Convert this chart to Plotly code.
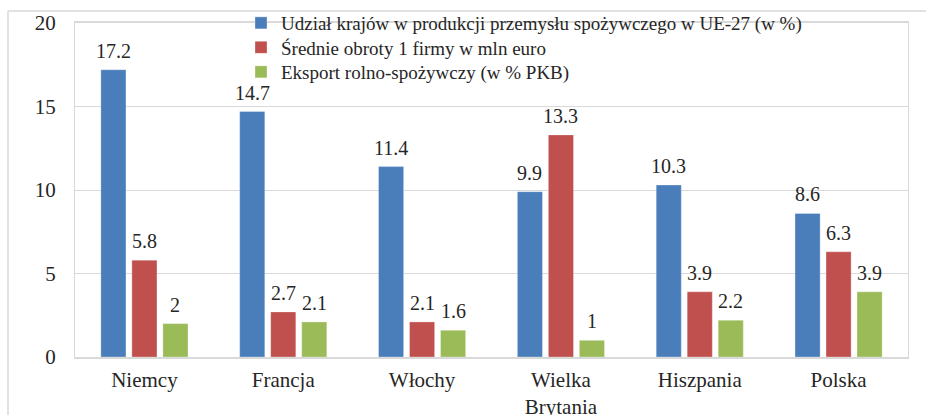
import plotly.graph_objects as go

categories = ["Niemcy", "Francja", "Włochy", "Wielka<br>Brytania", "Hiszpania", "Polska"]
udzial = [17.2, 14.7, 11.4, 9.9, 10.3, 8.6]
obroty = [5.8, 2.7, 2.1, 13.3, 3.9, 6.3]
eksport = [2, 2.1, 1.6, 1, 2.2, 3.9]
names = ["Udział krajów w produkcji przemysłu spożywczego w UE-27 (w %)",
         "Średnie obroty 1 firmy w mln euro",
         "Eksport rolno-spożywczy (w % PKB)"]
colors = ["#4A7EBB", "#C0504D", "#9BBB59"]
y_ticks = [0, 5, 10, 15, 20]

FONT = "Liberation Serif, Times New Roman, serif"
TXT = "#262626"

W, H = 926, 415
L, R, T, B = 75, 18, 23, 58
pw, ph = W - L - R, H - T - B

def px_x(p):
    return (p - L) / pw

def px_y(p):
    return (H - B - p) / ph

fig = go.Figure()
legend_ids = ["legend", "legend2", "legend3"]
shifts = [-31, 0, 31]
for name, vals, c, lg, sh in zip(names, [udzial, obroty, eksport], colors, legend_ids, shifts):
    fig.add_trace(go.Bar(
        x=categories, y=vals, name=name, legend=lg,
        marker=dict(color=c, line=dict(color="rgba(255,255,255,0.6)", width=0.5)),
        hoverinfo="skip",
    ))
    for cat, v in zip(categories, vals):
        fig.add_annotation(x=cat, y=v, text=f"{v:g}", showarrow=False,
                           xshift=sh, yshift=6, yanchor="bottom", xanchor="center",
                           font=dict(family=FONT, size=20, color=TXT))

leg_common = dict(xanchor="left", yanchor="middle", bgcolor="rgba(255,255,255,0)",
                  font=dict(family=FONT, size=19, color=TXT), itemwidth=30)
fig.update_layout(
    width=W, height=H,
    margin=dict(l=L, r=R, t=T, b=B, autoexpand=False),
    paper_bgcolor="white", plot_bgcolor="white",
    barmode="group", bargap=0.33, bargroupgap=0.19,
    font=dict(family=FONT, size=20, color=TXT),
    showlegend=True,
    legend=dict(x=px_x(241), y=px_y(23), **leg_common),
    legend2=dict(x=px_x(241), y=px_y(47.5), **leg_common),
    legend3=dict(x=px_x(241), y=px_y(72), **leg_common),
    xaxis=dict(showgrid=False, showline=True, linecolor="#D9D9D9", linewidth=1.5,
               mirror=True, ticks="", automargin=False, ticklabelstandoff=3,
               tickfont=dict(family=FONT, size=21, color=TXT)),
    yaxis=dict(range=[0, 20], tickvals=y_ticks, showgrid=True, gridcolor="#D9D9D9",
               showline=True, linecolor="#D9D9D9", mirror=True, zeroline=False,
               ticks="", ticklabelstandoff=14, automargin=False,
               tickfont=dict(family=FONT, size=21, color=TXT)),
    shapes=[
        dict(type="line", xref="paper", yref="paper", x0=px_x(8), x1=px_x(8),
             y0=px_y(11), y1=px_y(430), line=dict(color="#D9D9D9", width=1.5)),
        dict(type="line", xref="paper", yref="paper", x0=px_x(8), x1=px_x(940),
             y0=px_y(11), y1=px_y(11), line=dict(color="#D9D9D9", width=1.5)),
    ],
)
post = (
    "document.body.style.margin='0';document.body.style.overflow='hidden';"
    "var s=document.createElement('style');"
    "s.textContent=\".js-plotly-plot .main-svg text{font-family:'Liberation Serif','Times New Roman',Tinos,serif !important;}\";"
    "document.head.appendChild(s);"
)
fig.write_html("out.html", config={"displayModeBar": False}, post_script=post)
